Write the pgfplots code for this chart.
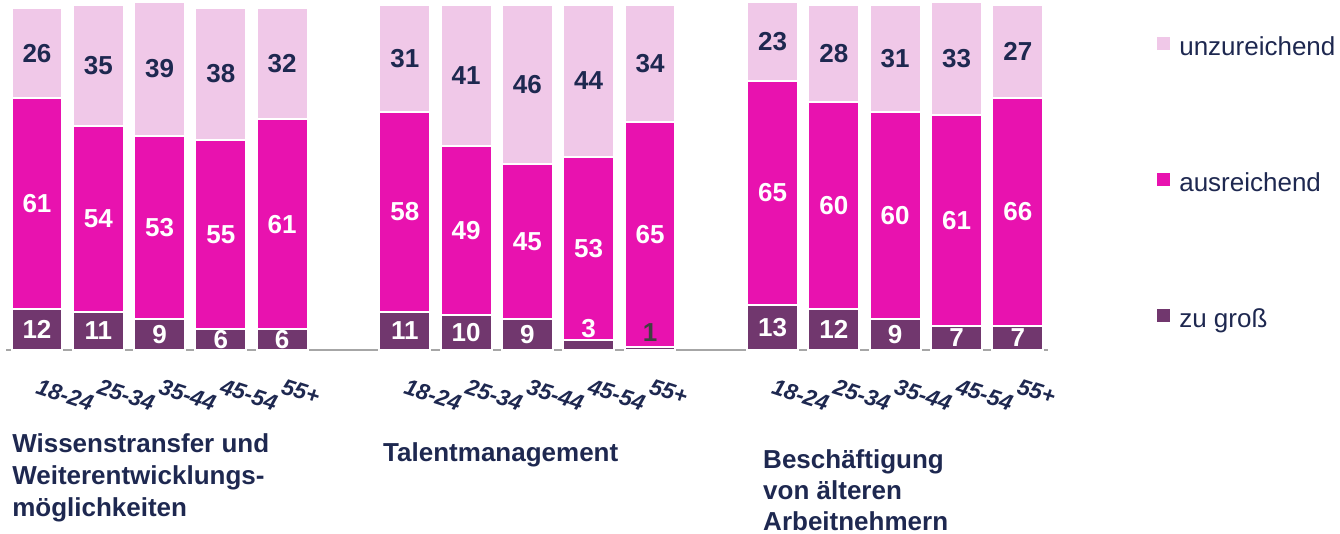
\documentclass[border=0pt]{standalone}
\usepackage{pgfplots}
\usepackage{pgfplotstable}
\pgfplotsset{compat=1.18}
\usepackage{fontspec}
\setmainfont{Liberation Sans}

\definecolor{zugross}{RGB}{113,55,110}
\definecolor{ausr}{RGB}{232,18,175}
\definecolor{unzu}{RGB}{240,200,232}
\definecolor{navy}{RGB}{30,40,80}
\definecolor{axgray}{RGB}{166,166,166}

% x = bar slot (groups separated by one empty slot)
\pgfplotstableread{
x  zg au un
0  12 61 26
1  11 54 35
2  9  53 39
3  6  55 38
4  6  61 32
6  11 58 31
7  10 49 41
8  9  45 46
9  3  53 44
10 1  65 34
12 13 65 23
13 12 60 28
14 9  60 31
15 7  61 33
16 7  66 27
}\data

% stacked labels already sit mid-segment; lift the tiny ones above their bar piece
\pgfplotsset{
  seg/.style 2 args={
    fill=#1, draw=white, line width=1.5pt,
    legend image code/.code={\fill[#1] (0pt,0pt) rectangle (8.25pt,8.25pt);},
    nodes near coords={\pgfmathtruncatemacro\issmall{\rawy<2}\ifnum\issmall=1\color{darkgray}\fi\pgfmathprintnumber[assume math mode=true]{\rawy}},
    every node near coord/.append style={anchor=center, text=#2, inner sep=0pt,
      font=\fontsize{19.5}{22}\selectfont\bfseries,
      shift={(axis direction cs:0,{(\rawy<5)*4.6})}},
  },
}

\begin{document}
\begin{tikzpicture}
\useasboundingbox (-27.75pt,-138pt) rectangle (977.25pt,262.5pt);
\begin{axis}[
  at={(0pt,0pt)}, anchor=origin,
  x=45.975pt, y=2.5875pt,
  xmin=-0.5, xmax=16.5, ymin=0, ymax=101.4,
  ybar stacked, bar width=0.83,
  axis y line=none, axis x line=bottom,
  x axis line style={-, draw=axgray, line width=1.5pt},
  xtick={0,1,2,3,4,6,7,8,9,10,12,13,14,15,16},
  xticklabels={18-24,25-34,35-44,45-54,55+,18-24,25-34,35-44,45-54,55+,18-24,25-34,35-44,45-54,55+},
  xtick style={draw=none},
  xticklabel style={xshift=2pt, yshift=-18.75pt, rotate=-18, anchor=north west, inner sep=0pt,
    text=navy, font=\fontsize{17}{20}\selectfont\bfseries\itshape},
  clip=false,
  legend style={at={(axis description cs:1.1042,0.896)}, anchor=north west, draw=none, fill=none,
    inner sep=0pt, column sep=6.75pt, row sep=84pt,
    nodes={inner sep=0pt, text height=14pt, text depth=4pt, text=navy, font=\fontsize{19.5}{22}\selectfont}},
  legend cell align=left, reverse legend,
]
\addplot[seg={zugross}{white}, visualization depends on={\thisrow{zg} \as \rawy}] table[x=x, y=zg] {\data};
\addlegendentry{zu groß}
\addplot[seg={ausr}{white}, visualization depends on={\thisrow{au} \as \rawy}] table[x=x, y=au] {\data};
\addlegendentry{ausreichend}
\addplot[seg={unzu}{navy}, visualization depends on={\thisrow{un} \as \rawy}] table[x=x, y=un] {\data};
\addlegendentry{unzureichend}

% base west of a multi-line node = baseline of its last line
\node[anchor=base west, align=left, inner sep=0pt, text=navy, font=\fontsize{19.5}{24}\selectfont\bfseries]
  at (axis cs:-0.408,-48.3) {Wissenstransfer und\\Weiterentwicklungs-\\möglichkeiten};
\node[anchor=base west, align=left, inner sep=0pt, text=navy, font=\fontsize{19.5}{24}\selectfont\bfseries]
  at (axis cs:5.644,-32.3) {Talentmanagement};
\node[anchor=base west, align=left, inner sep=0pt, text=navy, font=\fontsize{19.5}{23.25}\selectfont\bfseries]
  at (axis cs:11.843,-52.2) {Beschäftigung\\von älteren\\Arbeitnehmern};
\end{axis}
\end{tikzpicture}
\end{document}
